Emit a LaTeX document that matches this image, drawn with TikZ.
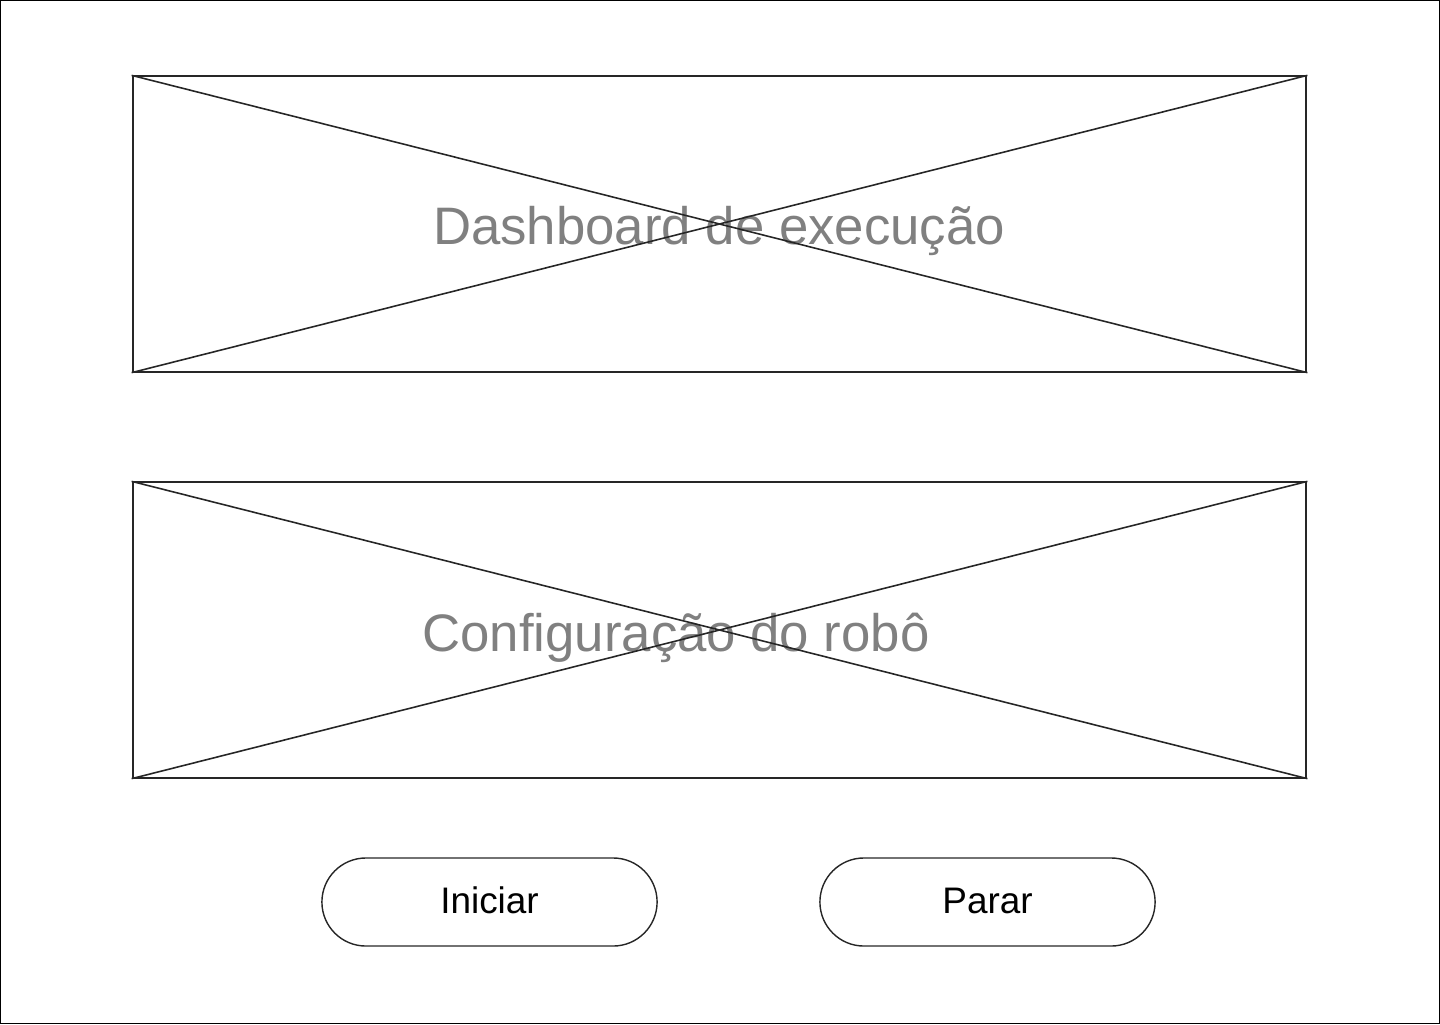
\documentclass[tikz,border=0pt]{standalone}
\usepackage{fontspec}
\setmainfont{Liberation Sans}
\usetikzlibrary{positioning}

\begin{document}
\begin{tikzpicture}[x=0.01cm,y=-0.01cm,
  placeholder/.style={draw=black!85,line width=0.6pt,minimum width=11.73cm,minimum height=2.95cm,inner sep=0pt},
  caption/.style={text=black!50,anchor=base,font=\fontsize{15}{18}\selectfont},
  pill/.style={draw=black!85,line width=0.4pt,rounded corners=0.44cm,minimum width=3.35cm,minimum height=0.88cm,
    text height=7.5pt,text depth=1.24pt,font=\fontsize{10.5}{13}\selectfont}]
  \useasboundingbox (0,0) rectangle (1440,1024);
  \draw[line width=0.4pt] (0.5,0.5) rectangle (1439.5,1023.5);

  % placeholders
  \node[placeholder] at (719.5,224) (dash) {};
  \node[placeholder] at (719.5,630) (conf) {};

  \node[caption] at (719,244) (dashlabel) {Dashboard de execução};
  \node[caption] at (676,651) (conflabel) {Configuração do robô};

  \draw[line width=0.45pt,black!85] (dash.north west) -- (dash.south east);
  \draw[line width=0.45pt,black!85] (dash.south west) -- (dash.north east);
  \draw[line width=0.45pt,black!85] (conf.north west) -- (conf.south east);
  \draw[line width=0.45pt,black!85] (conf.south west) -- (conf.north east);

  % buttons
  \node[pill] at (489.5,902) (start) {Iniciar};
  \node[pill] at (987.5,902) (stop) {Parar};

\end{tikzpicture}
\end{document}
